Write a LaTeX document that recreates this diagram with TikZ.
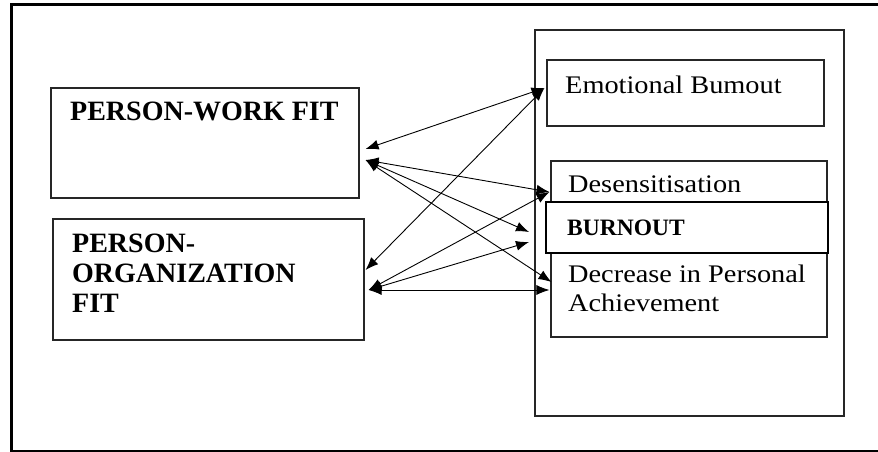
\documentclass[tikz,border=0pt]{standalone}
\usepackage{fontspec}
\setmainfont{Liberation Serif}
\newfontfamily\regfont[FakeStretch=1.12]{Liberation Serif}
\usetikzlibrary{arrows.meta,calc}
\begin{document}
\begin{tikzpicture}[x=1pt,y=-1pt,
  box/.style={draw=black!85, line width=1.1pt, inner sep=0pt, fill=white},
  boldtext/.style={font=\fontsize{28}{30}\selectfont\bfseries, inner sep=0pt, anchor=base west, align=left},
  smallbold/.style={font=\fontsize{23.5}{28}\selectfont\bfseries, inner sep=0pt, anchor=base west},
  regtext/.style={font=\regfont\fontsize{25.3}{29}\selectfont, inner sep=0pt, anchor=base west, align=left},
  link/.style={line width=0.9pt, {Latex[length=13pt,width=10pt]}-{Latex[length=13pt,width=10pt]}}]
\useasboundingbox (0,0) rectangle (878,452);
% outer frame
\draw[line width=3pt] (11,452) -- (11,5) -- (878,5);
\draw[line width=1.5pt] (10,451) -- (878,451);
% left boxes
\node[box, minimum width=308pt, minimum height=110pt] (pwf) at (205,143) {};
\node[box, minimum width=311pt, minimum height=121pt] (pof) at (208.5,279.5) {};
\node[boldtext] (pwft) at (70,120) {PERSON-WORK FIT};
\node[boldtext] (poft) at (72,312) {PERSON-\\ORGANIZATION\\FIT};
% right boxes
\node[box, minimum width=309pt, minimum height=386pt] (burn) at (689.5,223) {};
\node[box, minimum width=277pt, minimum height=66pt] (eb) at (685.5,93) {};
\node[box, minimum width=276pt, minimum height=176pt] (des) at (689,249) {};
\node[box, line width=2pt, draw=black, minimum width=282pt, minimum height=51pt] (brn) at (687,227.5) {};
\node[regtext] (ebt) at (565,93) {Emotional Bumout};
\node[regtext] (dest) at (568,192) {Desensitisation};
\node[smallbold] (brnt) at (567,235) {BURNOUT};
\node[regtext] (dect) at (568,311) {Decrease in Personal\\Achievement};
% end points
\coordinate (pwfA) at ($(pwf.east)+(6,6)$);
\coordinate (pwfB) at ($(pwf.east)+(6,17)$);
\coordinate (pofA) at ($(pof.east)+(1,-9.5)$);
\coordinate (pofB) at ($(pof.east)+(4,10.5)$);
\coordinate (ebA) at ($(eb.west)+(-2,-5)$);
\coordinate (desA) at ($(des.west)+(-1,-57)$);
\coordinate (brA) at ($(brn.west)+(-16,4.5)$);
\coordinate (brB) at ($(brn.west)+(-16,14.5)$);
\coordinate (decA) at ($(des.west)+(1,33)$);
\coordinate (decB) at ($(des.west)+(-1,41)$);
% connectors
\draw[link] (pwfA) -- (ebA);
\draw[link] (pwfB) -- (desA);
\draw[link] (pwfB) -- (brA);
\draw[link] (pwfB) -- (decA);
\draw[link] (pofA) -- (ebA);
\draw[link] (pofB) -- (desA);
\draw[link] (pofB) -- (brB);
\draw[link] (pofB) -- (decB);
\end{tikzpicture}
\end{document}
